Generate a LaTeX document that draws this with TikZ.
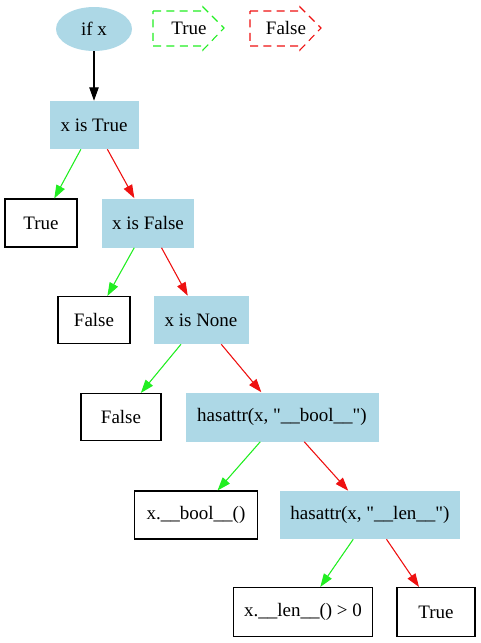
\documentclass[tikz,border=0pt]{standalone}
\usepackage{fontspec}
\setmainfont{Liberation Serif}[Ligatures=TeXOff]
\usetikzlibrary{shapes.geometric,arrows.meta}
\definecolor{lblue}{HTML}{ADD8E6}
\definecolor{egreen}{HTML}{22EE22}
\definecolor{ered}{HTML}{EE1111}
\begin{document}
\begin{tikzpicture}[x=0.75pt,y=-0.75pt,
  font=\fontsize{14.25pt}{17pt}\selectfont,
  test/.style={rectangle,fill=lblue,inner sep=0pt},
  leaf/.style={rectangle,draw=black,line width=0.8pt,inner sep=0pt},
  edge/.style={line width=0.8pt,-{Triangle[length=10pt,width=7pt]}},
  yes/.style={edge,draw=egreen,fill=egreen},
  no/.style={edge,draw=ered,fill=ered},
  legendline/.style={line width=0.8pt,dash pattern=on 6pt off 4pt}]
\useasboundingbox (0,0) rectangle (480,643);
% start
\node[ellipse,fill=lblue,inner sep=0pt,minimum width=57pt,minimum height=33pt] (ifx) at (94,29) {if x};
% legend
\draw[legendline,draw=egreen] (153,11) -- (203,11) -- (203,7) -- (224,28) -- (203,50) -- (203,46) -- (153,46) -- cycle;
\node (legT) at (189,28) {True};
\draw[legendline,draw=ered] (250,11) -- (300,11) -- (300,7) -- (321,28) -- (300,50) -- (300,46) -- (250,46) -- cycle;
\node (legF) at (286,28) {False};
% tests
\node[test,minimum width=66.75pt,minimum height=36pt] (xT) at (94,125) {x is True};
\node[test,minimum width=69pt,minimum height=36.75pt] (xF) at (148,223) {x is False};
\node[test,minimum width=71.25pt,minimum height=36pt] (xN) at (201,320) {x is None};
\node[test,minimum width=144.75pt,minimum height=36.75pt] (hb) at (282,417) {hasattr(x, "\_\_bool\_\_")};
\node[test,minimum width=135pt,minimum height=36pt] (hl) at (370,515) {hasattr(x, "\_\_len\_\_")};
% leaves
\node[leaf,minimum width=54pt,minimum height=36pt] (t1) at (41,223) {True};
\node[leaf,minimum width=54pt,minimum height=35.25pt] (f1) at (94,320) {False};
\node[leaf,minimum width=60pt,minimum height=35.25pt] (f2) at (121,417) {False};
\node[leaf,minimum width=92.25pt,minimum height=36pt] (xb) at (196,515) {x.\_\_bool\_\_()};
\node[leaf,minimum width=104.25pt,minimum height=36.75pt] (xl) at (303,612) {x.\_\_len\_\_() > 0};
\node[leaf,minimum width=58.5pt,minimum height=36.75pt] (t2) at (436,612) {True};
% edges
\draw[edge,fill=black] (ifx) -- (xT);
\draw[yes] (xT) -- (t1);
\draw[no] (xT) -- (xF);
\draw[yes] (xF) -- (f1);
\draw[no] (xF) -- (xN);
\draw[yes] (xN) -- (f2);
\draw[no] (xN) -- (hb);
\draw[yes] (hb) -- (xb);
\draw[no] (hb) -- (hl);
\draw[yes] (hl) -- (xl);
\draw[no] (hl) -- (t2);
\end{tikzpicture}
\end{document}
